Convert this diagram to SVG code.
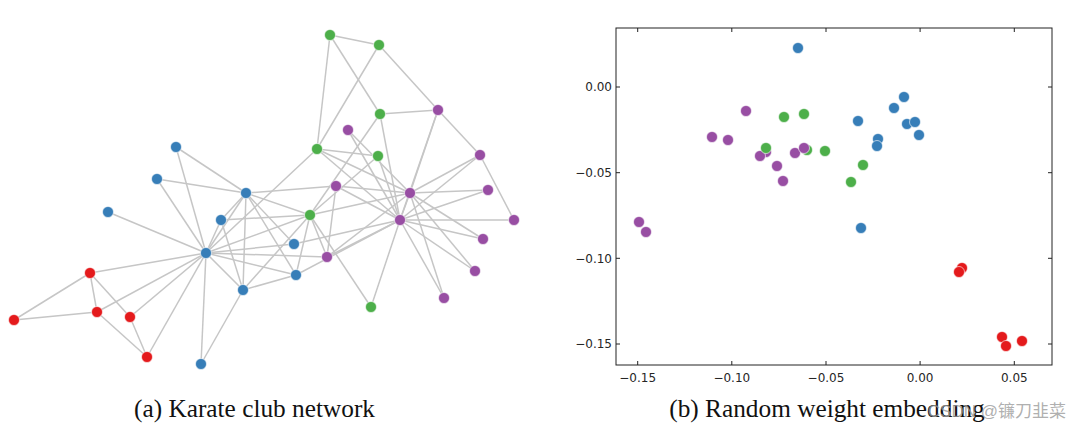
<svg xmlns="http://www.w3.org/2000/svg" width="1080" height="431" viewBox="0 0 1080 431">
<style>
.e{stroke:#c6c6c6;stroke-width:1.5;fill:none}
.b{fill:#377eb8}.g{fill:#4daf4a}.p{fill:#984ea3}.r{fill:#e41a1c}
.n circle{stroke:#ffffff;stroke-width:0.6}
.pt circle{stroke:#ffffff;stroke-width:0.6}
.ax{stroke:#222222;stroke-width:1;fill:none}
.tk{stroke:#222222;stroke-width:1}
.tl{font-family:"DejaVu Sans",sans-serif;font-size:12px;fill:#262626}
.cap{font-family:"Liberation Serif","Times New Roman",serif;font-size:25.3px;fill:#111111;text-anchor:middle}
</style>
<rect width="1080" height="431" fill="#ffffff"/>
<g id="edges">
<line class="e" x1="206" y1="253" x2="246" y2="193"/>
<line class="e" x1="206" y1="253" x2="310" y2="215"/>
<line class="e" x1="206" y1="253" x2="243" y2="290"/>
<line class="e" x1="206" y1="253" x2="147" y2="357"/>
<line class="e" x1="206" y1="253" x2="90" y2="273"/>
<line class="e" x1="206" y1="253" x2="97" y2="312"/>
<line class="e" x1="206" y1="253" x2="221" y2="220"/>
<line class="e" x1="206" y1="253" x2="327" y2="257"/>
<line class="e" x1="206" y1="253" x2="130" y2="317"/>
<line class="e" x1="206" y1="253" x2="108" y2="212"/>
<line class="e" x1="206" y1="253" x2="201" y2="364"/>
<line class="e" x1="206" y1="253" x2="296" y2="275"/>
<line class="e" x1="206" y1="253" x2="176" y2="147"/>
<line class="e" x1="206" y1="253" x2="294" y2="244"/>
<line class="e" x1="206" y1="253" x2="157" y2="179"/>
<line class="e" x1="206" y1="253" x2="317" y2="149"/>
<line class="e" x1="246" y1="193" x2="310" y2="215"/>
<line class="e" x1="246" y1="193" x2="243" y2="290"/>
<line class="e" x1="246" y1="193" x2="221" y2="220"/>
<line class="e" x1="246" y1="193" x2="296" y2="275"/>
<line class="e" x1="246" y1="193" x2="176" y2="147"/>
<line class="e" x1="246" y1="193" x2="294" y2="244"/>
<line class="e" x1="246" y1="193" x2="157" y2="179"/>
<line class="e" x1="246" y1="193" x2="336" y2="186"/>
<line class="e" x1="310" y1="215" x2="243" y2="290"/>
<line class="e" x1="310" y1="215" x2="221" y2="220"/>
<line class="e" x1="310" y1="215" x2="327" y2="257"/>
<line class="e" x1="310" y1="215" x2="371" y2="307"/>
<line class="e" x1="310" y1="215" x2="296" y2="275"/>
<line class="e" x1="310" y1="215" x2="380" y2="114"/>
<line class="e" x1="310" y1="215" x2="378" y2="156"/>
<line class="e" x1="310" y1="215" x2="410" y2="193"/>
<line class="e" x1="243" y1="290" x2="221" y2="220"/>
<line class="e" x1="243" y1="290" x2="201" y2="364"/>
<line class="e" x1="243" y1="290" x2="296" y2="275"/>
<line class="e" x1="147" y1="357" x2="97" y2="312"/>
<line class="e" x1="147" y1="357" x2="130" y2="317"/>
<line class="e" x1="90" y1="273" x2="97" y2="312"/>
<line class="e" x1="90" y1="273" x2="130" y2="317"/>
<line class="e" x1="90" y1="273" x2="14" y2="320"/>
<line class="e" x1="97" y1="312" x2="14" y2="320"/>
<line class="e" x1="327" y1="257" x2="336" y2="186"/>
<line class="e" x1="327" y1="257" x2="410" y2="193"/>
<line class="e" x1="327" y1="257" x2="400" y2="220"/>
<line class="e" x1="371" y1="307" x2="400" y2="220"/>
<line class="e" x1="296" y1="275" x2="400" y2="220"/>
<line class="e" x1="348" y1="130" x2="410" y2="193"/>
<line class="e" x1="348" y1="130" x2="400" y2="220"/>
<line class="e" x1="488" y1="190" x2="410" y2="193"/>
<line class="e" x1="488" y1="190" x2="400" y2="220"/>
<line class="e" x1="483" y1="239" x2="410" y2="193"/>
<line class="e" x1="483" y1="239" x2="400" y2="220"/>
<line class="e" x1="294" y1="244" x2="400" y2="220"/>
<line class="e" x1="475" y1="271" x2="410" y2="193"/>
<line class="e" x1="475" y1="271" x2="400" y2="220"/>
<line class="e" x1="444" y1="298" x2="410" y2="193"/>
<line class="e" x1="444" y1="298" x2="400" y2="220"/>
<line class="e" x1="438" y1="110" x2="379" y2="45"/>
<line class="e" x1="438" y1="110" x2="380" y2="114"/>
<line class="e" x1="438" y1="110" x2="480" y2="155"/>
<line class="e" x1="438" y1="110" x2="410" y2="193"/>
<line class="e" x1="438" y1="110" x2="400" y2="220"/>
<line class="e" x1="330" y1="35" x2="379" y2="45"/>
<line class="e" x1="330" y1="35" x2="380" y2="114"/>
<line class="e" x1="330" y1="35" x2="317" y2="149"/>
<line class="e" x1="379" y1="45" x2="317" y2="149"/>
<line class="e" x1="514" y1="220" x2="480" y2="155"/>
<line class="e" x1="514" y1="220" x2="400" y2="220"/>
<line class="e" x1="380" y1="114" x2="400" y2="220"/>
<line class="e" x1="378" y1="156" x2="317" y2="149"/>
<line class="e" x1="378" y1="156" x2="400" y2="220"/>
<line class="e" x1="480" y1="155" x2="410" y2="193"/>
<line class="e" x1="480" y1="155" x2="400" y2="220"/>
<line class="e" x1="336" y1="186" x2="410" y2="193"/>
<line class="e" x1="336" y1="186" x2="400" y2="220"/>
<line class="e" x1="317" y1="149" x2="410" y2="193"/>
<line class="e" x1="317" y1="149" x2="400" y2="220"/>
<line class="e" x1="410" y1="193" x2="400" y2="220"/>
</g>
<g class="n">
<g id="n0"><circle class="b" cx="206" cy="253" r="5.5"/></g>
<g id="n1"><circle class="b" cx="246" cy="193" r="5.5"/></g>
<g id="n2"><circle class="g" cx="310" cy="215" r="5.5"/></g>
<g id="n3"><circle class="b" cx="243" cy="290" r="5.5"/></g>
<g id="n4"><circle class="r" cx="147" cy="357" r="5.5"/></g>
<g id="n5"><circle class="r" cx="90" cy="273" r="5.5"/></g>
<g id="n6"><circle class="r" cx="97" cy="312" r="5.5"/></g>
<g id="n7"><circle class="b" cx="221" cy="220" r="5.5"/></g>
<g id="n8"><circle class="p" cx="327" cy="257" r="5.5"/></g>
<g id="n9"><circle class="g" cx="371" cy="307" r="5.5"/></g>
<g id="n10"><circle class="r" cx="130" cy="317" r="5.5"/></g>
<g id="n11"><circle class="b" cx="108" cy="212" r="5.5"/></g>
<g id="n12"><circle class="b" cx="201" cy="364" r="5.5"/></g>
<g id="n13"><circle class="b" cx="296" cy="275" r="5.5"/></g>
<g id="n14"><circle class="p" cx="348" cy="130" r="5.5"/></g>
<g id="n15"><circle class="p" cx="488" cy="190" r="5.5"/></g>
<g id="n16"><circle class="r" cx="14" cy="320" r="5.5"/></g>
<g id="n17"><circle class="b" cx="176" cy="147" r="5.5"/></g>
<g id="n18"><circle class="p" cx="483" cy="239" r="5.5"/></g>
<g id="n19"><circle class="b" cx="294" cy="244" r="5.5"/></g>
<g id="n20"><circle class="p" cx="475" cy="271" r="5.5"/></g>
<g id="n21"><circle class="b" cx="157" cy="179" r="5.5"/></g>
<g id="n22"><circle class="p" cx="444" cy="298" r="5.5"/></g>
<g id="n23"><circle class="p" cx="438" cy="110" r="5.5"/></g>
<g id="n24"><circle class="g" cx="330" cy="35" r="5.5"/></g>
<g id="n25"><circle class="g" cx="379" cy="45" r="5.5"/></g>
<g id="n26"><circle class="p" cx="514" cy="220" r="5.5"/></g>
<g id="n27"><circle class="g" cx="380" cy="114" r="5.5"/></g>
<g id="n28"><circle class="g" cx="378" cy="156" r="5.5"/></g>
<g id="n29"><circle class="p" cx="480" cy="155" r="5.5"/></g>
<g id="n30"><circle class="p" cx="336" cy="186" r="5.5"/></g>
<g id="n31"><circle class="g" cx="317" cy="149" r="5.5"/></g>
<g id="n32"><circle class="p" cx="410" cy="193" r="5.5"/></g>
<g id="n33"><circle class="p" cx="400" cy="220" r="5.5"/></g>
</g>
<g id="axes">
<rect class="ax" x="616" y="28" width="436" height="337"/>
<g class="tk">
<line x1="637.7" y1="365" x2="637.7" y2="361"/><line x1="731.8" y1="365" x2="731.8" y2="361"/><line x1="826" y1="365" x2="826" y2="361"/><line x1="920.1" y1="365" x2="920.1" y2="361"/><line x1="1014.3" y1="365" x2="1014.3" y2="361"/>
<line x1="637.7" y1="28" x2="637.7" y2="32"/><line x1="731.8" y1="28" x2="731.8" y2="32"/><line x1="826" y1="28" x2="826" y2="32"/><line x1="920.1" y1="28" x2="920.1" y2="32"/><line x1="1014.3" y1="28" x2="1014.3" y2="32"/>
<line x1="616" y1="87" x2="620" y2="87"/><line x1="616" y1="172.7" x2="620" y2="172.7"/><line x1="616" y1="258.3" x2="620" y2="258.3"/><line x1="616" y1="344" x2="620" y2="344"/>
<line x1="1052" y1="87" x2="1048" y2="87"/><line x1="1052" y1="172.7" x2="1048" y2="172.7"/><line x1="1052" y1="258.3" x2="1048" y2="258.3"/><line x1="1052" y1="344" x2="1048" y2="344"/>
</g>
<g class="tl" text-anchor="end">
<text x="612" y="91.3">0.00</text>
<text x="612" y="177">−0.05</text>
<text x="612" y="262.6">−0.10</text>
<text x="612" y="348.3">−0.15</text>
</g>
<g class="tl" text-anchor="middle">
<text x="637.7" y="382">−0.15</text>
<text x="731.8" y="382">−0.10</text>
<text x="826" y="382">−0.05</text>
<text x="920.1" y="382">0.00</text>
<text x="1014.3" y="382">0.05</text>
</g>
</g>
<g class="pt" id="points">
<circle class="p" cx="746" cy="111" r="5.5"/>
<circle class="p" cx="712" cy="137" r="5.5"/>
<circle class="p" cx="728" cy="140" r="5.5"/>
<circle class="p" cx="766" cy="152" r="5.5"/>
<circle class="p" cx="760" cy="156" r="5.5"/>
<circle class="p" cx="795" cy="153" r="5.5"/>
<circle class="p" cx="777" cy="166" r="5.5"/>
<circle class="p" cx="783" cy="181" r="5.5"/>
<circle class="p" cx="639" cy="222" r="5.5"/>
<circle class="p" cx="646" cy="232" r="5.5"/>
<circle class="g" cx="784" cy="117" r="5.5"/>
<circle class="g" cx="804" cy="114" r="5.5"/>
<circle class="g" cx="766" cy="148" r="5.5"/>
<circle class="g" cx="807" cy="150" r="5.5"/>
<circle class="g" cx="825" cy="151" r="5.5"/>
<circle class="g" cx="863" cy="165" r="5.5"/>
<circle class="g" cx="851" cy="182" r="5.5"/>
<circle class="p" cx="804" cy="148" r="5.5"/>
<circle class="b" cx="798" cy="48" r="5.5"/>
<circle class="b" cx="904" cy="97" r="5.5"/>
<circle class="b" cx="894" cy="108" r="5.5"/>
<circle class="b" cx="858" cy="121" r="5.5"/>
<circle class="b" cx="907" cy="124" r="5.5"/>
<circle class="b" cx="915" cy="122" r="5.5"/>
<circle class="b" cx="919" cy="135" r="5.5"/>
<circle class="b" cx="878" cy="139" r="5.5"/>
<circle class="b" cx="877" cy="146" r="5.5"/>
<circle class="b" cx="861" cy="228" r="5.5"/>
<circle class="r" cx="962" cy="268" r="5.5"/>
<circle class="r" cx="959" cy="272" r="5.5"/>
<circle class="r" cx="1002" cy="337" r="5.5"/>
<circle class="r" cx="1006" cy="346" r="5.5"/>
<circle class="r" cx="1022" cy="341" r="5.5"/>
</g>
<text class="cap" x="254.5" y="417">(a) Karate club network</text>
<text class="cap" x="827" y="417">(b) Random weight embedding</text>
<text x="1066" y="417" text-anchor="end" style="font-family:'Liberation Sans','Noto Sans CJK SC',sans-serif;font-size:17px;fill:#9a9a9a;fill-opacity:0.8">CSDN @镰刀韭菜</text>
</svg>
